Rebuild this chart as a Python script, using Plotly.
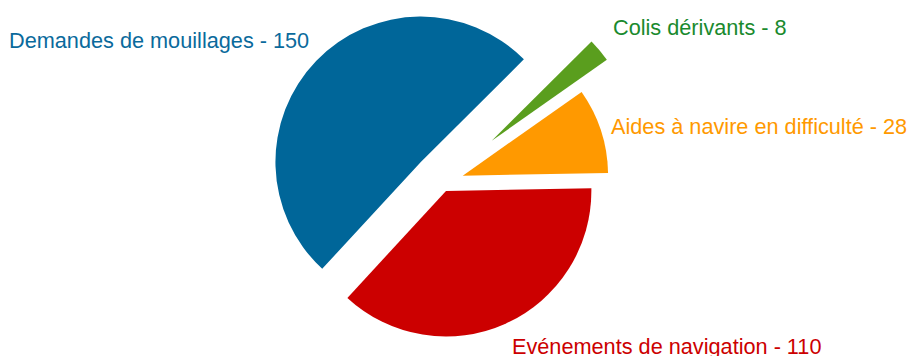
import numpy as np
import plotly.graph_objects as go

labels = ["Demandes de mouillages", "Colis dérivants", "Aides à navire en difficulté", "Evénements de navigation"]
values = [150, 8, 28, 110]

# styling
slice_colors = ["#006699", "#5a9e1e", "#ff9900", "#cc0000"]
text_colors = ["#0a6a9c", "#1a8a2e", "#ff9900", "#cc0000"]
pulls = [0.203, 0.446, 0.149, 0.065]
label_shift = [(-7.5, -20.6), (9.5, -19.4), (10.0, -3.5), (6.7, 23.1)]  # px offsets from the arc midpoint

W, H = 909, 356
R = 145.4
CX, CY = 442.1, 182.4
ROT = -137.3  # start angle, clockwise from 12 o'clock
FONT = "Liberation Sans, Arial, sans-serif"

total = sum(values)
fig = go.Figure()
start = ROT
annotations = []
for i, v in enumerate(values):
    span = v / total * 360.0
    mid = start + span / 2.0
    start += span
    a = np.radians(mid)
    dx, dy = np.sin(a), -np.cos(a)
    d = pulls[i] * R
    cx, cy = CX + d * dx, CY + d * dy
    r_i = min(R, cy)  # keep the slice's pie box inside the figure
    x0 = max(0.0, (cx - r_i) / W)
    x1 = min(1.0, (cx + r_i) / W)
    y0 = max(0.0, 1 - (cy + r_i) / H)
    y1 = min(1.0, 1 - (cy - r_i) / H)
    fig.add_trace(go.Pie(
        labels=labels,
        values=values,
        sort=False,
        direction="clockwise",
        rotation=ROT,
        marker=dict(colors=[slice_colors[j] if j == i else "rgba(0,0,0,0)" for j in range(len(values))],
                    line=dict(width=0)),
        textinfo="none",
        domain=dict(x=[x0, x1], y=[y0, y1]),
        hoverinfo="skip",
        showlegend=False,
    ))
    # label anchored at the slice's outer arc midpoint
    px, py = cx + R * dx, cy + R * dy
    sx, sy = label_shift[i]
    annotations.append(dict(
        text=f"{labels[i]} - {v}",
        xref="paper", yref="paper",
        x=px / W, y=1 - py / H,
        xshift=sx, yshift=-sy,
        xanchor="left" if dx > 0 else "right",
        yanchor="middle",
        showarrow=False,
        borderpad=0, borderwidth=0,
        font=dict(color=text_colors[i], size=21.7, family=FONT),
    ))

fig.update_layout(
    width=W, height=H,
    margin=dict(l=0, r=0, t=0, b=0),
    paper_bgcolor="white",
    plot_bgcolor="white",
    showlegend=False,
    annotations=annotations,
)
fig.write_html("out.html")
